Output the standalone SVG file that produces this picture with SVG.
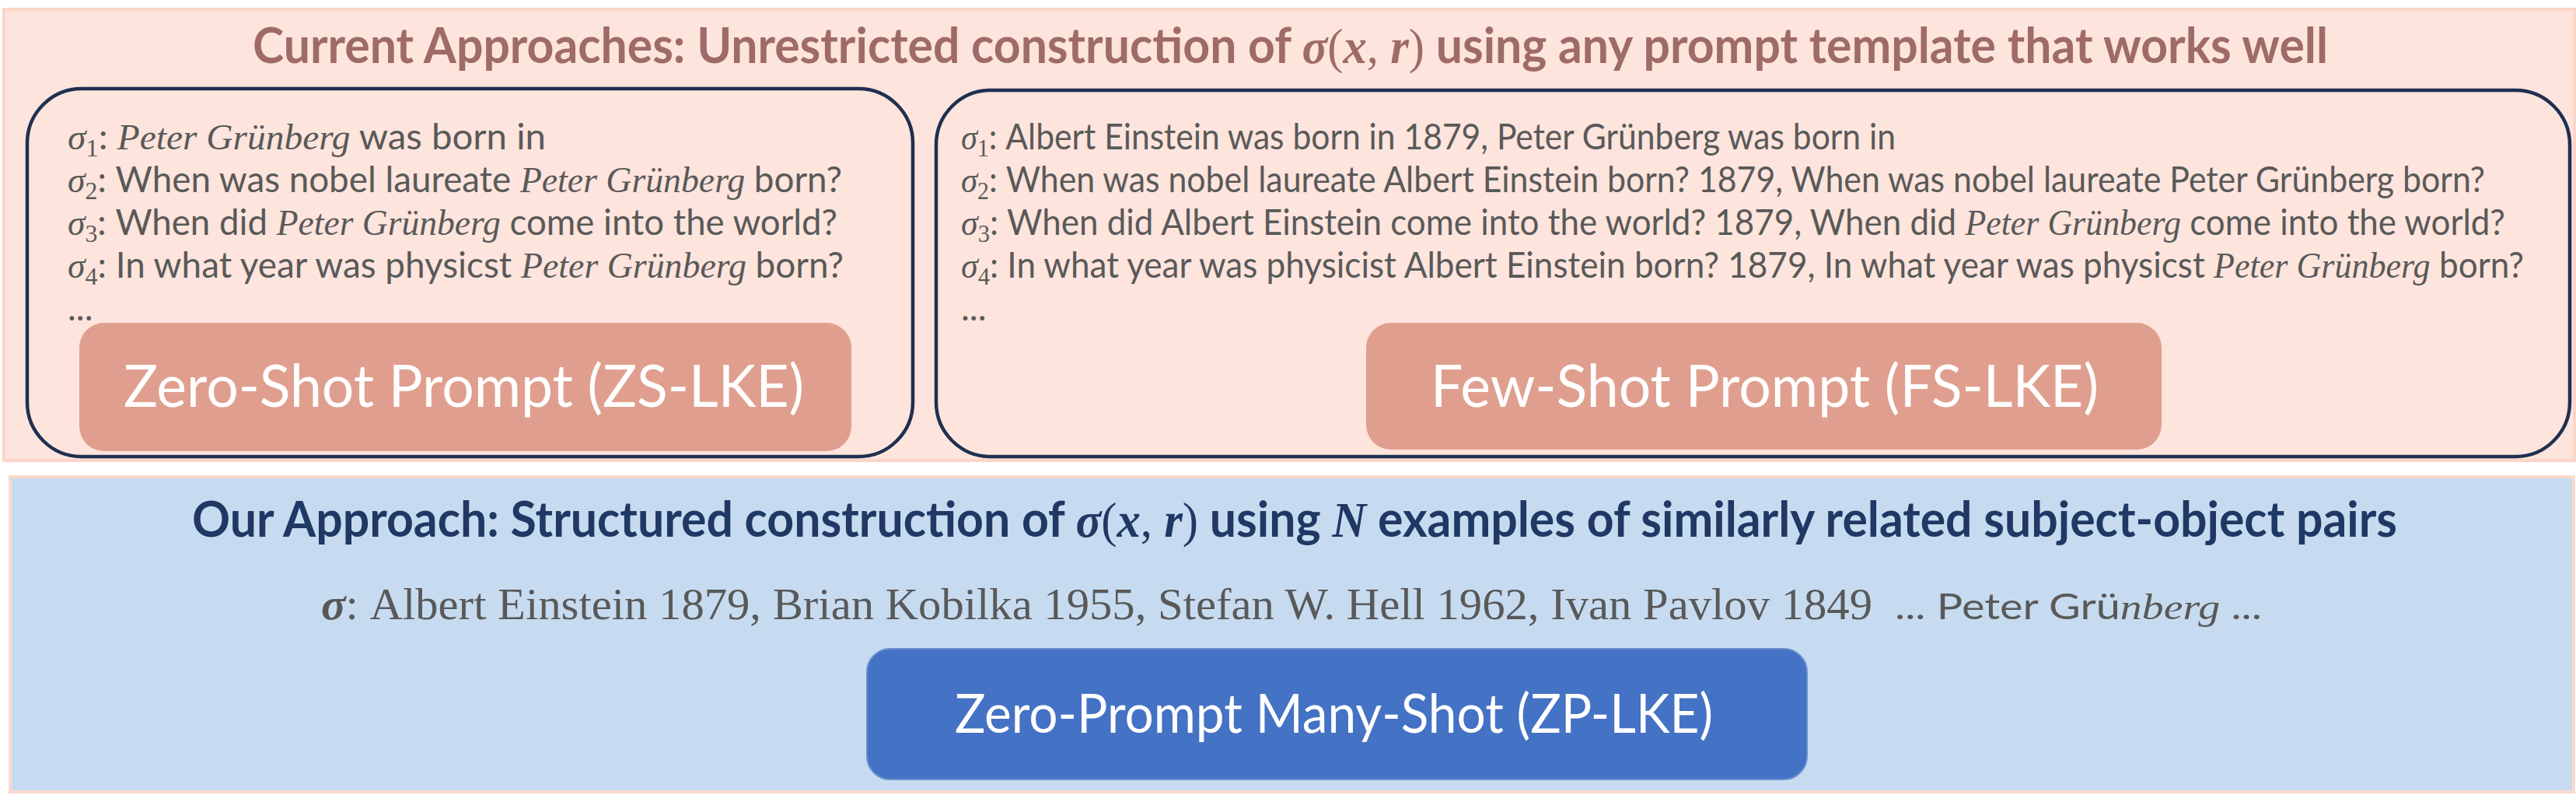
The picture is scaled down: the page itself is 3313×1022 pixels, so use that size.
<svg xmlns="http://www.w3.org/2000/svg" width="3313" height="1022" viewBox="0 0 3313 1022">
<style>
.panelTop{fill:#FDE4DC;stroke:#FCD5C8;stroke-width:4}
.panelBot{fill:#C7DBF0;stroke:#F9DACE;stroke-width:4}
.frame{fill:none;stroke:#1F3050;stroke-width:4.5}
.btnPink{fill:#E09F8E}
.btnBlue{fill:#4472C4;stroke:#6A8ED0;stroke-width:2}
.head{font-family:Lato,"Liberation Sans",sans-serif;font-weight:bold;font-size:64px}
.body{font-family:Lato,"Liberation Sans",sans-serif;font-size:46px;fill:#595959}
.ser{font-family:"Liberation Serif",serif;font-size:57px;fill:#595959}
.m{font-family:"Liberation Serif",serif;font-style:italic}
.mb{font-family:"Liberation Serif",serif;font-style:italic;font-weight:bold}
.mr{font-family:"Liberation Serif",serif;font-weight:normal}
.sub{font-family:"Liberation Serif",serif;font-size:32px}
.btn{font-family:Lato,"Liberation Sans",sans-serif;fill:#FFFFFF}
</style>

<g id="current-approaches">
<rect class="panelTop" x="5" y="12" width="3306" height="580"/>
<text class="head" fill="#9E6B66" x="325" y="81" textLength="2669" lengthAdjust="spacingAndGlyphs">Current Approaches: Unrestricted construction of <tspan class="mb">σ</tspan><tspan class="mr">(</tspan><tspan class="m">x</tspan><tspan class="mr">, </tspan><tspan class="m">r</tspan><tspan class="mr">)</tspan> using any prompt template that works well</text>
</g>

<g id="zero-shot-examples">
<rect class="frame" x="35" y="114" width="1139" height="473" rx="70" ry="70"/>
<text class="body" x="87" y="192" textLength="615" lengthAdjust="spacingAndGlyphs"><tspan class="m">σ</tspan><tspan class="sub" dy="9">1</tspan><tspan dy="-9">: </tspan><tspan class="m">Peter Grünberg</tspan> was born in</text>
<text class="body" x="87" y="247" textLength="996" lengthAdjust="spacingAndGlyphs"><tspan class="m">σ</tspan><tspan class="sub" dy="9">2</tspan><tspan dy="-9">: When was nobel laureate </tspan><tspan class="m">Peter Grünberg</tspan> born?</text>
<text class="body" x="87" y="302" textLength="990" lengthAdjust="spacingAndGlyphs"><tspan class="m">σ</tspan><tspan class="sub" dy="9">3</tspan><tspan dy="-9">: When did </tspan><tspan class="m">Peter Grünberg</tspan> come into the world?</text>
<text class="body" x="87" y="357" textLength="998" lengthAdjust="spacingAndGlyphs"><tspan class="m">σ</tspan><tspan class="sub" dy="9">4</tspan><tspan dy="-9">: In what year was physicst </tspan><tspan class="m">Peter Grünberg</tspan> born?</text>
<text class="body" x="87" y="412">...</text>
</g>

<g id="zs-lke">
<rect class="btnPink" x="102" y="415" width="993" height="165" rx="32" ry="32"/>
<text class="btn" x="159" y="523" font-size="76" textLength="875" lengthAdjust="spacingAndGlyphs">Zero-Shot Prompt (ZS-LKE)</text>
</g>

<g id="few-shot-examples">
<rect class="frame" x="1204" y="116" width="2101" height="471" rx="70" ry="70"/>
<text class="body" x="1236" y="192" textLength="1202" lengthAdjust="spacingAndGlyphs"><tspan class="m">σ</tspan><tspan class="sub" dy="9">1</tspan><tspan dy="-9">: Albert Einstein was born in 1879, Peter Grünberg was born in</tspan></text>
<text class="body" x="1236" y="247" textLength="1960" lengthAdjust="spacingAndGlyphs"><tspan class="m">σ</tspan><tspan class="sub" dy="9">2</tspan><tspan dy="-9">: When was nobel laureate Albert Einstein born? 1879, When was nobel laureate Peter Grünberg born?</tspan></text>
<text class="body" x="1236" y="302" textLength="1986" lengthAdjust="spacingAndGlyphs"><tspan class="m">σ</tspan><tspan class="sub" dy="9">3</tspan><tspan dy="-9">: When did Albert Einstein come into the world? 1879, When did </tspan><tspan class="m">Peter Grünberg</tspan> come into the world?</text>
<text class="body" x="1236" y="357" textLength="2010" lengthAdjust="spacingAndGlyphs"><tspan class="m">σ</tspan><tspan class="sub" dy="9">4</tspan><tspan dy="-9">: In what year was physicist Albert Einstein born? 1879, In what year was physicst </tspan><tspan class="m">Peter Grünberg</tspan> born?</text>
<text class="body" x="1236" y="412">...</text>
</g>

<g id="fs-lke">
<rect class="btnPink" x="1757" y="415" width="1023" height="163" rx="32" ry="32"/>
<text class="btn" x="1840" y="523" font-size="76" textLength="859" lengthAdjust="spacingAndGlyphs">Few-Shot Prompt (FS-LKE)</text>
</g>

<g id="our-approach">
<rect class="panelBot" x="13" y="613" width="3297" height="405"/>
<text class="head" fill="#1F3864" x="247" y="690" textLength="2836" lengthAdjust="spacingAndGlyphs">Our Approach: Structured construction of <tspan class="mb">σ</tspan><tspan class="mr">(</tspan><tspan class="m">x</tspan><tspan class="mr">, </tspan><tspan class="m">r</tspan><tspan class="mr">)</tspan> using <tspan class="m">N</tspan> examples of similarly related subject-object pairs</text>
<text class="ser" x="413" y="796" textLength="1995" lengthAdjust="spacingAndGlyphs"><tspan class="mb">σ</tspan>: Albert Einstein 1879, Brian Kobilka 1955, Stefan W. Hell 1962, Ivan Pavlov 1849</text>
<text class="body" font-size="54" x="2437" y="796" textLength="472" lengthAdjust="spacingAndGlyphs">... Peter Grü<tspan class="m">nberg</tspan> ...</text>
</g>

<g id="zp-lke">
<rect class="btnBlue" x="1115" y="834" width="1209" height="168" rx="30" ry="30"/>
<text class="btn" x="1228" y="942" font-size="70" textLength="975" lengthAdjust="spacingAndGlyphs">Zero-Prompt Many-Shot (ZP-LKE)</text>
</g>

<g id="connectors"/>
</svg>
